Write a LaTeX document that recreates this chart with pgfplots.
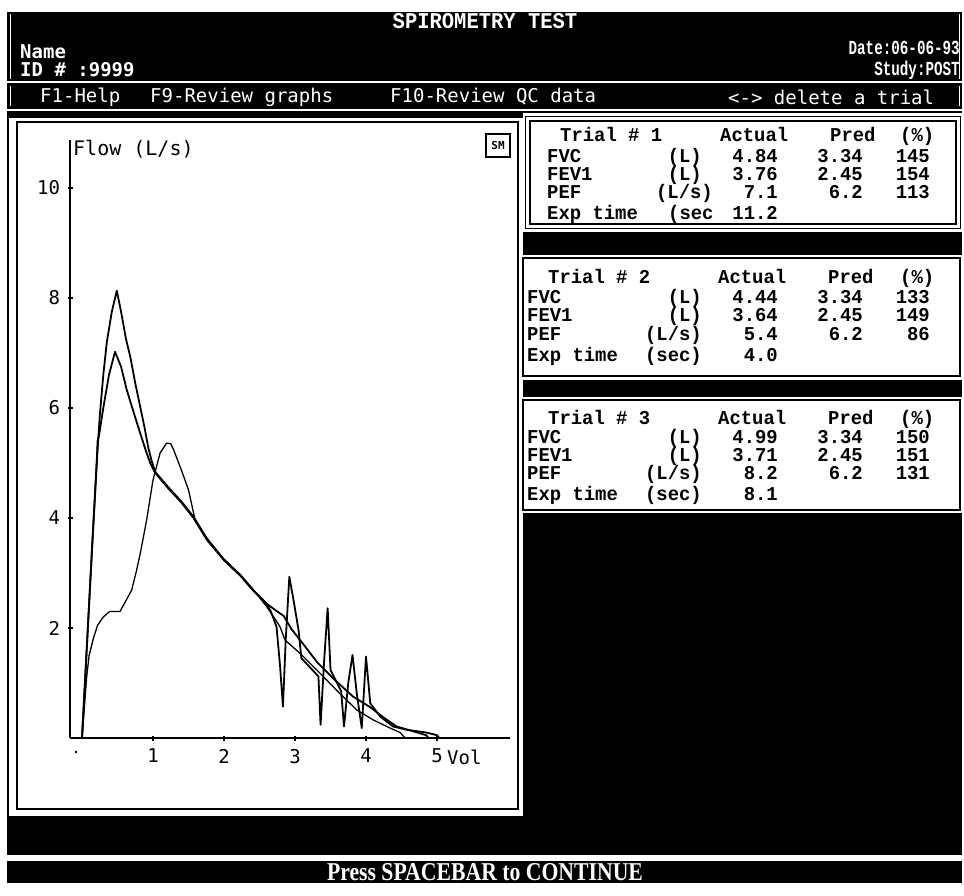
\documentclass[border=0pt]{standalone}
\usepackage{fontspec}
\usepackage{graphicx}
\usepackage{pgfplots}
\pgfplotsset{compat=1.18}
\setmainfont{DejaVu Sans Mono}
\newfontfamily\cour{Liberation Mono}
\newfontfamily\tms{Liberation Serif}

% table text: bold courier, stretched like the screen font
\newcommand{\tb}[1]{\scalebox{1.08}[1.12]{\cour\bfseries\fontsize{17.5}{20}\selectfont #1}}

\begin{document}
\begin{tikzpicture}
% screen background, coordinates in pixels from the top left
\begin{scope}[shift={(0pt,895pt)}, x=1pt, y=-1pt]
  \fill[white] (0,0) rectangle (964,895);
  \fill[black] (7,12) rectangle (962,855);
  \draw[white, line width=1pt] (10,14) -- (10,79) (959,14) -- (959,79);
  \draw[white, line width=1.5pt] (7,82) -- (962,82);
  \draw[white, line width=1pt] (10,86) -- (10,106) (959,86) -- (959,106);
  \draw[white, line width=1.5pt] (7,110) -- (962,110);
  % plot panel
  \fill[white] (9,118) rectangle (523,816);
  \draw[black, line width=2.5pt] (17,122) rectangle (518,809);
  % trial boxes
  \fill[white] (523,113) rectangle (963,232);
  \draw[black, line width=1.5pt] (525.5,116.5) rectangle (960.5,228.5);
  \draw[black, line width=2pt] (530,121) rectangle (956,224);
  \fill[white] (521,255) rectangle (963,380);
  \draw[black, line width=2.5pt] (523,258) rectangle (960,376);
  \fill[white] (521,397) rectangle (963,513);
  \draw[black, line width=2.5pt] (523,400) rectangle (960,510);
  % bottom bar
  \fill[white] (0,856) rectangle (964,861);
  \fill[black] (7,861) rectangle (962,883);
\end{scope}

\begin{axis}[
  at={(70pt,157pt)}, anchor=south west,
  scale only axis, width=440pt, height=598pt,
  xmin=-0.169, xmax=6.028, ymin=0, ymax=10.87,
  axis lines=left,
  axis line style={-, line width=1.8pt},
  xtick={1,2,3,4,5}, xticklabels={1,2,3,4,5},
  ytick={2,4,6,8,10}, yticklabels={2,4,6,8,10},
  tick align=center, major tick length=5pt,
  tick style={line width=1.5pt, black},
  tick label style={font=\fontsize{19}{22}\selectfont},
  xticklabel style={yshift=-5pt},
  yticklabel style={xshift=-4pt},
  clip=false,
]
% Trial 3
\addplot[black, line width=1.8pt, line join=round] coordinates {
  (0,0) (0.07,1.7) (0.14,3.42) (0.2,4.85) (0.25,5.85) (0.3,6.6) (0.35,7.2)
  (0.42,7.75) (0.49,8.13) (0.55,7.75) (0.62,7.25) (0.68,6.93) (0.75,6.45)
  (0.82,6.02) (0.88,5.65) (0.93,5.3) (0.98,5.04) (1.03,4.84) (1.2,4.58)
  (1.4,4.3) (1.57,4.02) (1.76,3.62) (2.0,3.24) (2.23,2.96) (2.41,2.69)
  (2.58,2.47) (2.66,2.3) (2.74,2.02) (2.79,1.3) (2.83,0.57) (2.87,1.8)
  (2.92,2.93) (2.98,2.5) (3.05,1.96) (3.09,1.45) (3.2,1.3) (3.33,1.12)
  (3.36,0.24) (3.41,1.4) (3.46,2.36) (3.5,1.24) (3.6,0.98) (3.65,0.85)
  (3.69,0.21) (3.75,1.0) (3.81,1.51) (3.87,0.81) (3.94,0.18) (4.0,1.48)
  (4.06,0.63) (4.2,0.39) (4.38,0.21) (4.57,0.15) (4.85,0.1) (5.0,0.05) (5.03,0)
};
% Trial 1
\addplot[black, line width=1.8pt, line join=round] coordinates {
  (0,0) (0.07,1.7) (0.14,3.4) (0.2,4.8) (0.22,5.4) (0.24,5.5) (0.3,6.0)
  (0.38,6.6) (0.465,7.02) (0.55,6.75) (0.63,6.33) (0.72,5.95) (0.82,5.54)
  (0.9,5.22) (0.96,5.0) (1.03,4.82) (1.2,4.56) (1.4,4.28) (1.57,4.0)
  (1.76,3.6) (2.0,3.23) (2.23,2.95) (2.41,2.68) (2.6,2.44) (2.75,2.3)
  (2.84,2.22) (2.95,1.98) (3.12,1.7) (3.31,1.38) (3.54,1.08) (3.82,0.75)
  (4.06,0.56) (4.24,0.38) (4.43,0.21) (4.67,0.12) (4.85,0.05) (4.88,0)
};
% Trial 2
\addplot[black, line width=1.3pt, line join=round] coordinates {
  (0,0) (0.03,0.5) (0.066,1.11) (0.1,1.5) (0.16,1.81) (0.22,2.05) (0.3,2.2)
  (0.39,2.3) (0.535,2.3) (0.62,2.5) (0.7,2.69) (0.76,3.0) (0.82,3.35)
  (0.91,3.96) (1.0,4.69) (1.1,5.18) (1.19,5.36) (1.25,5.35) (1.29,5.24)
  (1.4,4.87) (1.5,4.51) (1.59,3.98) (1.76,3.63) (2.0,3.25) (2.23,2.97)
  (2.41,2.7) (2.6,2.39) (2.7,2.2) (2.79,2.02) (2.86,1.78) (3.07,1.54)
  (3.35,1.18) (3.63,0.81) (3.87,0.51) (4.1,0.33) (4.34,0.18) (4.48,0.1) (4.55,0)
};
\end{axis}

% texts
\begin{scope}[shift={(0pt,895pt)}, x=1pt, y=-1pt, every node/.style={inner sep=0pt}]
  \node[text=white] at (485,21) {\scalebox{1}[1.1]{\cour\bfseries\fontsize{20.5}{24}\selectfont SPIROMETRY TEST}};
  \node[text=white, anchor=west] at (20,52) {\bfseries\fontsize{19}{22}\selectfont Name};
  \node[text=white, anchor=west] at (20,70) {\bfseries\fontsize{19}{22}\selectfont ID \# :9999};
  \node[text=white, anchor=east] at (960,48) {\scalebox{0.75}[1.05]{\cour\bfseries\fontsize{19}{22}\selectfont Date:06-06-93}};
  \node[text=white, anchor=east] at (960,70) {\scalebox{0.75}[1.05]{\cour\bfseries\fontsize{19}{22}\selectfont Study:POST}};
  \begin{scope}[every node/.append style={text=white, anchor=west, font=\fontsize{19}{22}\selectfont}]
    \node at (40,97) {F1-Help};
    \node at (150,97) {F9-Review graphs};
    \node at (390,97) {F10-Review QC data};
    \node at (728,97) {<-> delete a trial};
  \end{scope}
  % plot labels
  \node[anchor=west, font=\fontsize{20}{24}\selectfont] at (73,149) {Flow (L/s)};
  \draw[black, line width=2pt] (486,134) rectangle (510,157);
  \node[font=\bfseries\fontsize{11}{12}\selectfont] at (498,145.5) {SM};
  \node[anchor=west, font=\fontsize{19}{22}\selectfont] at (447,757) {Vol};
  \fill[black] (76,752) circle (1.3);
  % Trial 1
  \node[anchor=base west] at (560,142) {\tb{Trial \# 1}};
  \node[anchor=base west] at (720,142) {\tb{Actual}};
  \node[anchor=base west] at (830,142) {\tb{Pred}};
  \node[anchor=base west] at (900,142) {\tb{(\%)}};
  \node[anchor=base west] at (547,163) {\tb{FVC}};
  \node[anchor=base east] at (702,163) {\tb{(L)}};
  \node[anchor=base east] at (778,163) {\tb{4.84}};
  \node[anchor=base east] at (863,163) {\tb{3.34}};
  \node[anchor=base east] at (930,163) {\tb{145}};
  \node[anchor=base west] at (547,181) {\tb{FEV1}};
  \node[anchor=base east] at (702,181) {\tb{(L)}};
  \node[anchor=base east] at (778,181) {\tb{3.76}};
  \node[anchor=base east] at (863,181) {\tb{2.45}};
  \node[anchor=base east] at (930,181) {\tb{154}};
  \node[anchor=base west] at (547,199) {\tb{PEF}};
  \node[anchor=base east] at (713,199) {\tb{(L/s)}};
  \node[anchor=base east] at (778,199) {\tb{7.1}};
  \node[anchor=base east] at (863,199) {\tb{6.2}};
  \node[anchor=base east] at (930,199) {\tb{113}};
  \node[anchor=base west] at (547,220) {\tb{Exp time}};
  \node[anchor=base west] at (668,220) {\tb{(sec}};
  \node[anchor=base east] at (778,220) {\tb{11.2}};
  % Trial 2
  \node[anchor=base west] at (548,284) {\tb{Trial \# 2}};
  \node[anchor=base west] at (718,284) {\tb{Actual}};
  \node[anchor=base west] at (828,284) {\tb{Pred}};
  \node[anchor=base west] at (900,284) {\tb{(\%)}};
  \node[anchor=base west] at (527,304) {\tb{FVC}};
  \node[anchor=base east] at (702,304) {\tb{(L)}};
  \node[anchor=base east] at (778,304) {\tb{4.44}};
  \node[anchor=base east] at (863,304) {\tb{3.34}};
  \node[anchor=base east] at (930,304) {\tb{133}};
  \node[anchor=base west] at (527,322) {\tb{FEV1}};
  \node[anchor=base east] at (702,322) {\tb{(L)}};
  \node[anchor=base east] at (778,322) {\tb{3.64}};
  \node[anchor=base east] at (863,322) {\tb{2.45}};
  \node[anchor=base east] at (930,322) {\tb{149}};
  \node[anchor=base west] at (527,341) {\tb{PEF}};
  \node[anchor=base east] at (702,341) {\tb{(L/s)}};
  \node[anchor=base east] at (778,341) {\tb{5.4}};
  \node[anchor=base east] at (863,341) {\tb{6.2}};
  \node[anchor=base east] at (930,341) {\tb{86}};
  \node[anchor=base west] at (527,362) {\tb{Exp time}};
  \node[anchor=base east] at (702,362) {\tb{(sec)}};
  \node[anchor=base east] at (778,362) {\tb{4.0}};
  % Trial 3
  \node[anchor=base west] at (548,425) {\tb{Trial \# 3}};
  \node[anchor=base west] at (718,425) {\tb{Actual}};
  \node[anchor=base west] at (828,425) {\tb{Pred}};
  \node[anchor=base west] at (900,425) {\tb{(\%)}};
  \node[anchor=base west] at (527,444) {\tb{FVC}};
  \node[anchor=base east] at (702,444) {\tb{(L)}};
  \node[anchor=base east] at (778,444) {\tb{4.99}};
  \node[anchor=base east] at (863,444) {\tb{3.34}};
  \node[anchor=base east] at (930,444) {\tb{150}};
  \node[anchor=base west] at (527,462) {\tb{FEV1}};
  \node[anchor=base east] at (702,462) {\tb{(L)}};
  \node[anchor=base east] at (778,462) {\tb{3.71}};
  \node[anchor=base east] at (863,462) {\tb{2.45}};
  \node[anchor=base east] at (930,462) {\tb{151}};
  \node[anchor=base west] at (527,480) {\tb{PEF}};
  \node[anchor=base east] at (702,480) {\tb{(L/s)}};
  \node[anchor=base east] at (778,480) {\tb{8.2}};
  \node[anchor=base east] at (863,480) {\tb{6.2}};
  \node[anchor=base east] at (930,480) {\tb{131}};
  \node[anchor=base west] at (527,501) {\tb{Exp time}};
  \node[anchor=base east] at (702,501) {\tb{(sec)}};
  \node[anchor=base east] at (778,501) {\tb{8.1}};
  % bottom prompt
  \node[text=white] at (485,872) {\resizebox{316pt}{17pt}{\tms\bfseries Press SPACEBAR to CONTINUE}};
\end{scope}
\end{tikzpicture}
\end{document}
